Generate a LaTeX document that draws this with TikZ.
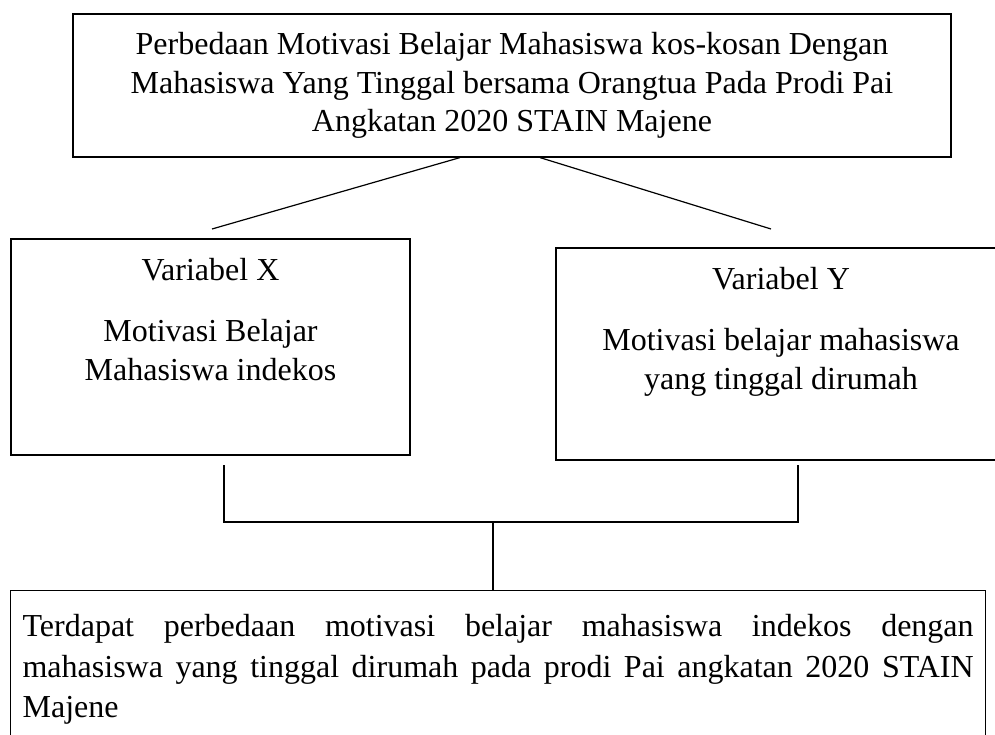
\documentclass[tikz,border=0pt]{standalone}
\usepackage{fontspec}
\setmainfont{Liberation Serif}
\usetikzlibrary{positioning}

\begin{document}
\begin{tikzpicture}[x=1pt,y=-1pt,
    kotak/.style={draw,line width=1.2pt,inner sep=0pt},
    isi/.style={align=center,font=\fontsize{32}{38.5}\selectfont,inner sep=0pt},
    garis/.style={line width=1.2pt}]

    \useasboundingbox (0,0) rectangle (995,735);

    % Judul penelitian
    \node[kotak,isi,minimum width=878pt,minimum height=143pt] (judul) at (512,85.5)
        {Perbedaan Motivasi Belajar Mahasiswa kos-kosan Dengan\\
         Mahasiswa Yang Tinggal bersama Orangtua Pada Prodi Pai\\
         Angkatan 2020 STAIN Majene};

    % Kotak variabel
    \node[kotak,minimum width=399pt,minimum height=216pt] (varx) at (210.5,347) {};
    \node[kotak,minimum width=454pt,minimum height=212pt] (vary) at (783,354) {};
    \node[isi,anchor=north] (teksx) at (210.5,258) {Variabel X\\[23pt]Motivasi Belajar\\Mahasiswa indekos};
    \node[isi,anchor=north] (teksy) at (781,267) {Variabel Y\\[23pt]Motivasi belajar mahasiswa\\yang tinggal dirumah};

    % Kesimpulan
    \node[kotak,anchor=north west,text width=951pt,inner xsep=12pt,inner ysep=24pt,
        align=justify,font=\fontsize{32}{40.5}\selectfont] (hasil) at (10,590)
        {\hyphenpenalty=10000 Terdapat perbedaan motivasi belajar mahasiswa indekos dengan\linebreak
         mahasiswa yang tinggal dirumah pada prodi Pai angkatan 2020 STAIN\linebreak
         Majene};

    % Garis penghubung
    \coordinate (ujungx) at (212,229);
    \coordinate (ujungy) at (771,229);
    \draw[garis] ([xshift=-52pt]judul.south) -- (ujungx);
    \draw[garis] ([xshift=28pt]judul.south) -- (ujungy);

    \coordinate (kakix) at (224,465);
    \coordinate (kakiy) at (798,465);
    \coordinate (simpang) at (493,522);
    \draw[garis] (kakix) -- (kakix |- simpang) -- (kakiy |- simpang) -- (kakiy);
    \draw[garis] (simpang) -- (simpang |- hasil.north);

\end{tikzpicture}
\end{document}
